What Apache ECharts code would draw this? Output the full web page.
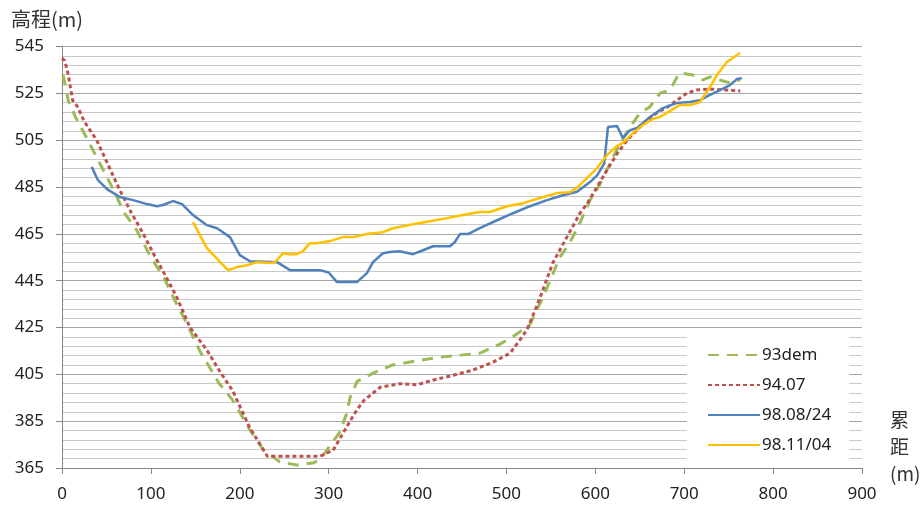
<!DOCTYPE html>
<html><head><meta charset="utf-8">
<script src="https://cdn.jsdelivr.net/npm/echarts@6/dist/echarts.min.js"></script>
<style>html,body{margin:0;padding:0;background:#fff}#c{width:922px;height:509px}</style>
</head><body><div id="c"></div>
<script>
const seriesNames = ['93dem', '94.07', '98.08/24', '98.11/04'];
const xTicks = [0,100,200,300,400,500,600,700,800,900];
const yTicks = [365,385,405,425,445,465,485,505,525,545];

const dem93X = [1,4,7,15,29,40,57,70,84,100,115,125,140,155,177,192,211,226,245,264,282,290,312,320,324,332,350,372,403,425,448,470,493,507,526,540,549,560,571,583,594,605,620,628,639,650,661,673,684,692,695,710,721,729,740,752,763];
const dem93Y = [533,528,522,515,505,497,484.5,474,466.6,455,446,438,427,415,401,394,381.5,373,367.6,366.3,367.1,368.4,380,388,395,402,405.5,409,411,412.3,413.2,414,418,421,426,437,445,455,461,470,479.4,486,497.8,503.8,510.6,516.6,519.1,525.1,526.4,532,533.7,532.8,530.7,532,530.7,529.4,530.7];

const s9407X = [0,3,7,12,18,25,39,50,65,78,91,105,118,129,144,163,178,192,211,231,260,290,305,321,332,340,358,380,399,417,440,462,485,504,515,523,534,541,552,568,583,591,602,613,625,636,647,658,669,681,692,703,714,729,748,763];
const s9407Y = [540,539,533,522,519,513,505,496,483.7,474,465.3,455,446,438,425,415.3,406,398,382.4,370,370,370,372.6,383,390,394,399.5,401,400.5,402.5,404.6,406.8,410.2,414,419.6,424,434,441,452.5,463.6,474,478,485,492.2,499.5,505.1,509.3,513.6,516.6,519.1,522.1,525.1,526.4,526.8,526.4,526];

const s980824X = [33.4,40.5,50.6,65.2,79.9,95.6,106.9,113.6,124.9,135,147.4,163,174.4,189,200,211.5,241.9,256.5,290.2,300,309.4,331.9,343,349.9,361,369,380,394.9,406,417.4,436.5,442,447.7,456.7,470,489.4,507.4,526.5,545.6,563.6,579.4,594,602,610,614.2,624.4,631,639,647,661.5,676,692,706.5,717.7,729,740.3,751.5,759.4,765];
const s980824Y = [493.6,487.9,484.1,480.7,479.4,477.7,476.8,477.3,479,477.7,473,468.7,467.4,463.6,455.9,453.3,452.9,449.5,449.5,448.5,444.4,444.4,448.2,452.9,456.7,457.2,457.6,456.3,458,459.7,459.7,461.5,464.9,464.9,467.4,470.8,473.8,476.8,479.4,481.5,483,487.1,490,495,510.6,511,505.9,509.3,510.2,514.9,518.7,520.9,521.3,522.1,524.3,526.4,528.5,531.1,531.5];

const s981104X = [147.4,163,186.7,196.9,208,219.4,234,239.6,248.6,256.5,264.4,271.1,279,286.9,301.5,316,327.4,343,361,372.3,394.9,414,433,451,470,481.5,500.6,518.6,537.7,556.9,571.5,579.4,590.6,602,613,624.4,631,642.3,653.5,664.8,672.7,684,695,706.5,714.4,717.7,729,736.8,748,762.7];
const s981104Y = [470,458.9,449.5,450.8,451.6,452.9,452.5,452.9,456.7,456.3,456.3,457.6,461,461,461.9,463.6,463.6,464.9,465.7,467.4,469.1,470.4,471.7,473,474.3,474.3,476.8,478.1,480.3,482.4,482.8,484.7,488.8,493.1,498.6,502.5,503.8,508,511.5,514.1,514.9,517.4,520,520,520.9,521.3,527.7,532.8,538.4,542.2];

function pairs(xs, ys){ return xs.map((x,i)=>[x, ys[i]]); }

const FONT = 'Noto Sans';
const chart = echarts.init(document.getElementById('c'));
chart.setOption({
  animation: false,
  backgroundColor: '#fff',
  textStyle: { fontFamily: FONT },
  grid: { left: 62, right: 60, top: 46.5, bottom: 41, containLabel: false },
  xAxis: {
    type: 'value', min: xTicks[0], max: xTicks[xTicks.length-1], interval: 100,
    axisLine: { show: true, lineStyle: { color: '#868686', width: 1 } },
    axisTick: { show: true, length: 6, lineStyle: { color: '#868686' } },
    axisLabel: { fontSize: 17, color: '#222', margin: 18, fontFamily: FONT },
    splitLine: { show: false }
  },
  yAxis: {
    type: 'value', min: yTicks[0], max: yTicks[yTicks.length-1], interval: 20,
    axisLine: { show: true, lineStyle: { color: '#868686', width: 1 } },
    axisTick: { show: true, length: 6, lineStyle: { color: '#868686' } },
    axisLabel: { fontSize: 17, color: '#222', margin: 18, fontFamily: FONT },
    splitLine: { show: true, lineStyle: { color: '#a6a6a6', width: 1 } },
    minorTick: { show: false, splitNumber: 5 },
    minorSplitLine: { show: true, lineStyle: { color: '#c8c8c8', width: 1 } }
  },
  legend: {
    orient: 'vertical', left: 687, top: 337,
    backgroundColor: '#fff',
    padding: [9, 18, 9, 20],
    itemWidth: 52, itemHeight: 14, itemGap: 12,
    itemStyle: { color: 'rgba(0,0,0,0)', borderWidth: 0, opacity: 0 },
    textStyle: { fontSize: 17, color: '#222', fontFamily: FONT, lineHeight: 18, padding: [0,0,0,-3] },
    data: seriesNames
  },
  graphic: [
    { type: 'text', left: 11, top: 9, style: { text: '高程(m)', fontSize: 20, fill: '#333', fontFamily: 'Noto Sans CJK SC' } },
    { type: 'text', left: 890, top: 406, style: { text: '累\n距\n(m)', fontSize: 19, lineHeight: 27, fill: '#333', align: 'center', fontFamily: 'Noto Sans CJK SC' } }
  ],
  series: [
    { name: seriesNames[0], type: 'line', data: pairs(dem93X, dem93Y), symbol: 'none', smooth: false,
      lineStyle: { color: '#9BBB59', width: 3, type: [11, 8] }, itemStyle: { color: '#9BBB59' } },
    { name: seriesNames[1], type: 'line', data: pairs(s9407X, s9407Y), symbol: 'none', smooth: false,
      lineStyle: { color: '#C0504D', width: 3, type: [4, 3] }, itemStyle: { color: '#C0504D' } },
    { name: seriesNames[2], type: 'line', data: pairs(s980824X, s980824Y), symbol: 'none', smooth: false,
      lineStyle: { color: '#4F81BD', width: 2.5 }, itemStyle: { color: '#4F81BD' } },
    { name: seriesNames[3], type: 'line', data: pairs(s981104X, s981104Y), symbol: 'none', smooth: false,
      lineStyle: { color: '#FFC000', width: 2.5 }, itemStyle: { color: '#FFC000' } }
  ]
});
</script></body></html>
